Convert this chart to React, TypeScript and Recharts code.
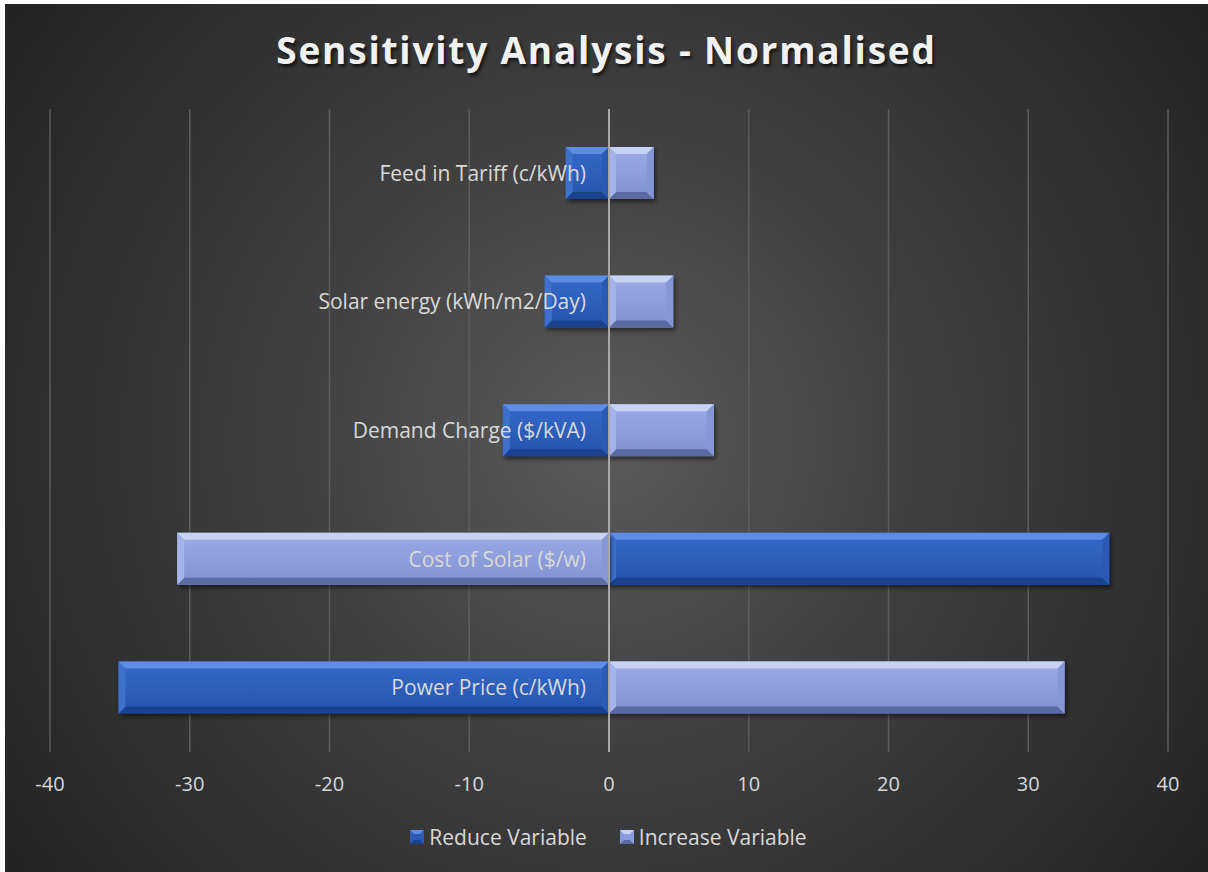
import React from 'react';
import { BarChart, Bar, XAxis, YAxis, CartesianGrid, ReferenceLine, Legend } from 'recharts';

const categories = [
  'Feed in Tariff (c/kWh)',
  'Solar energy (kWh/m2/Day)',
  'Demand Charge ($/kVA)',
  'Cost of Solar ($/w)',
  'Power Price (c/kWh)',
];
const reduceVariable = [-3.1, -4.6, -7.6, 35.8, -35.1];
const increaseVariable = [3.2, 4.6, 7.5, -30.9, 32.6];
const xTicks = [-40, -30, -20, -10, 0, 10, 20, 30, 40];
const seriesNames = { reduce: 'Reduce Variable', increase: 'Increase Variable' };

const data = categories.map((name, i) => ({
  name,
  reduce: reduceVariable[i],
  increase: increaseVariable[i],
}));

const CHART_W = 1203;
const CHART_H = 868;
const Y_W = 1;
const MARGIN = { top: 105, right: 40, left: 44, bottom: 20 };
const PLOT_W = CHART_W - MARGIN.left - Y_W - MARGIN.right;
const FONT = '"Open Sans", "Noto Sans", sans-serif';

const PALETTE: Record<string, any> = {
  reduce: {
    face: ['#3569c9', '#2554ad'],
    top: '#5d8ce2',
    bottom: '#1a4290',
    left: '#3e70cd',
    right: '#2a5ab3',
    marker: '#2a5cb8',
  },
  increase: {
    face: ['#9aabe7', '#7f91d0'],
    top: '#c7d2f6',
    bottom: '#5a6ba4',
    left: '#a3b3eb',
    right: '#8597d4',
    marker: '#8a9cda',
  },
};

function BevelBar(props: any) {
  const { x, y, width, height, index, series } = props;
  if (x == null || y == null || !width || !height) return null;
  const x0 = Math.min(x, x + width);
  const w = Math.abs(width);
  const y0 = Math.min(y, y + height);
  const h = Math.abs(height);
  if (w < 0.5) return null;
  const b = Math.min(7, w / 2, h / 2);
  const x1 = x0 + w;
  const y1 = y0 + h;
  const p = PALETTE[series];
  const gid = `grad-${series}-${index}`;
  const fid = `shadow-${series}-${index}`;
  return (
    <g>
      <defs>
        <linearGradient id={gid} x1="0" y1="0" x2="0" y2="1">
          <stop offset="0" stopColor={p.face[0]} />
          <stop offset="1" stopColor={p.face[1]} />
        </linearGradient>
        <filter id={fid} x="-10%" y="-40%" width="120%" height="180%">
          <feGaussianBlur stdDeviation="2" />
        </filter>
      </defs>
      <rect x={x0 + 2} y={y0 + 3} width={w} height={h} fill="#000" opacity={0.5} filter={`url(#${fid})`} />
      <rect x={x0} y={y0} width={w} height={h} fill={`url(#${gid})`} />
      <polygon points={`${x0},${y0} ${x1},${y0} ${x1 - b},${y0 + b} ${x0 + b},${y0 + b}`} fill={p.top} />
      <polygon points={`${x0},${y1} ${x1},${y1} ${x1 - b},${y1 - b} ${x0 + b},${y1 - b}`} fill={p.bottom} />
      <polygon points={`${x0},${y0} ${x0 + b},${y0 + b} ${x0 + b},${y1 - b} ${x0},${y1}`} fill={p.left} />
      <polygon points={`${x1},${y0} ${x1 - b},${y0 + b} ${x1 - b},${y1 - b} ${x1},${y1}`} fill={p.right} />
    </g>
  );
}

const renderCategoryTick = (props: any) => {
  const { x, y, payload } = props;
  return (
    <text
      x={x + PLOT_W / 2 - 23}
      y={y}
      dy="0.36em"
      textAnchor="end"
      fill="#d9d9d9"
      fontSize={21}
      fontFamily={FONT}
    >
      {payload.value}
    </text>
  );
};

const LegendMarker = ({ series }: { series: string }) => {
  const p = PALETTE[series];
  return (
    <svg width={14} height={14} style={{ display: 'block' }}>
      <rect x={0} y={0} width={14} height={14} fill={p.marker} />
      <polygon points="0,0 14,0 10,4 4,4" fill={p.top} />
      <polygon points="0,14 14,14 10,10 4,10" fill={p.bottom} />
    </svg>
  );
};

const renderLegend = () => (
  <div
    style={{
      display: 'flex',
      justifyContent: 'center',
      alignItems: 'center',
      height: 30,
      fontFamily: FONT,
      fontSize: 21,
      color: '#d9d9d9',
    }}
  >
    {(['reduce', 'increase'] as const).map((s, i) => (
      <div key={s} style={{ display: 'flex', alignItems: 'center', marginLeft: i ? 33 : 0 }}>
        <LegendMarker series={s} />
        <span style={{ marginLeft: 5 }}>{seriesNames[s]}</span>
      </div>
    ))}
  </div>
);

export default function App() {
  return (
    <div
      style={{
        position: 'absolute',
        left: 5,
        top: 4,
        width: CHART_W,
        height: CHART_H,
        background: 'radial-gradient(circle farthest-corner at 50% 50%, #5b5b5b 0%, #3e3e3e 45%, #232323 100%)',
        overflow: 'hidden',
      }}
    >
      <div
        style={{
          position: 'absolute',
          left: 0,
          top: 20,
          width: CHART_W,
          textAlign: 'center',
          fontFamily: FONT,
          fontWeight: 700,
          fontSize: 37,
          letterSpacing: 1.8,
          lineHeight: '52px',
          color: '#f2f2f2',
          textShadow: '2px 3px 3px rgba(0,0,0,0.6)',
        }}
      >
        Sensitivity Analysis - Normalised
      </div>
      <BarChart
        width={CHART_W}
        height={CHART_H}
        data={data}
        layout="vertical"
        margin={MARGIN}
        barSize={52}
        stackOffset="sign"
      >
        <CartesianGrid horizontal={false} stroke="#5c5c5c" strokeWidth={1.5} />
        <XAxis
          type="number"
          domain={[-40, 40]}
          ticks={xTicks}
          axisLine={false}
          tickLine={false}
          tickSize={0}
          tickMargin={25}
          height={70}
          interval={0}
          tick={{ fill: '#d9d9d9', fontSize: 20, fontFamily: FONT }}
        />
        <Bar
          dataKey="reduce"
          name={seriesNames.reduce}
          stackId="s"
          fill={PALETTE.reduce.marker}
          isAnimationActive={false}
          shape={(p: any) => <BevelBar {...p} series="reduce" />}
        />
        <Bar
          dataKey="increase"
          name={seriesNames.increase}
          stackId="s"
          fill={PALETTE.increase.marker}
          isAnimationActive={false}
          shape={(p: any) => <BevelBar {...p} series="increase" />}
        />
        <ReferenceLine x={0} stroke="#a8a8a8" strokeWidth={2} />
        <YAxis
          type="category"
          dataKey="name"
          width={Y_W}
          axisLine={false}
          tickLine={false}
          tickSize={0}
          tickMargin={0}
          interval={0}
          tick={renderCategoryTick}
        />
        <Legend verticalAlign="bottom" height={30} content={renderLegend} />
      </BarChart>
    </div>
  );
}
